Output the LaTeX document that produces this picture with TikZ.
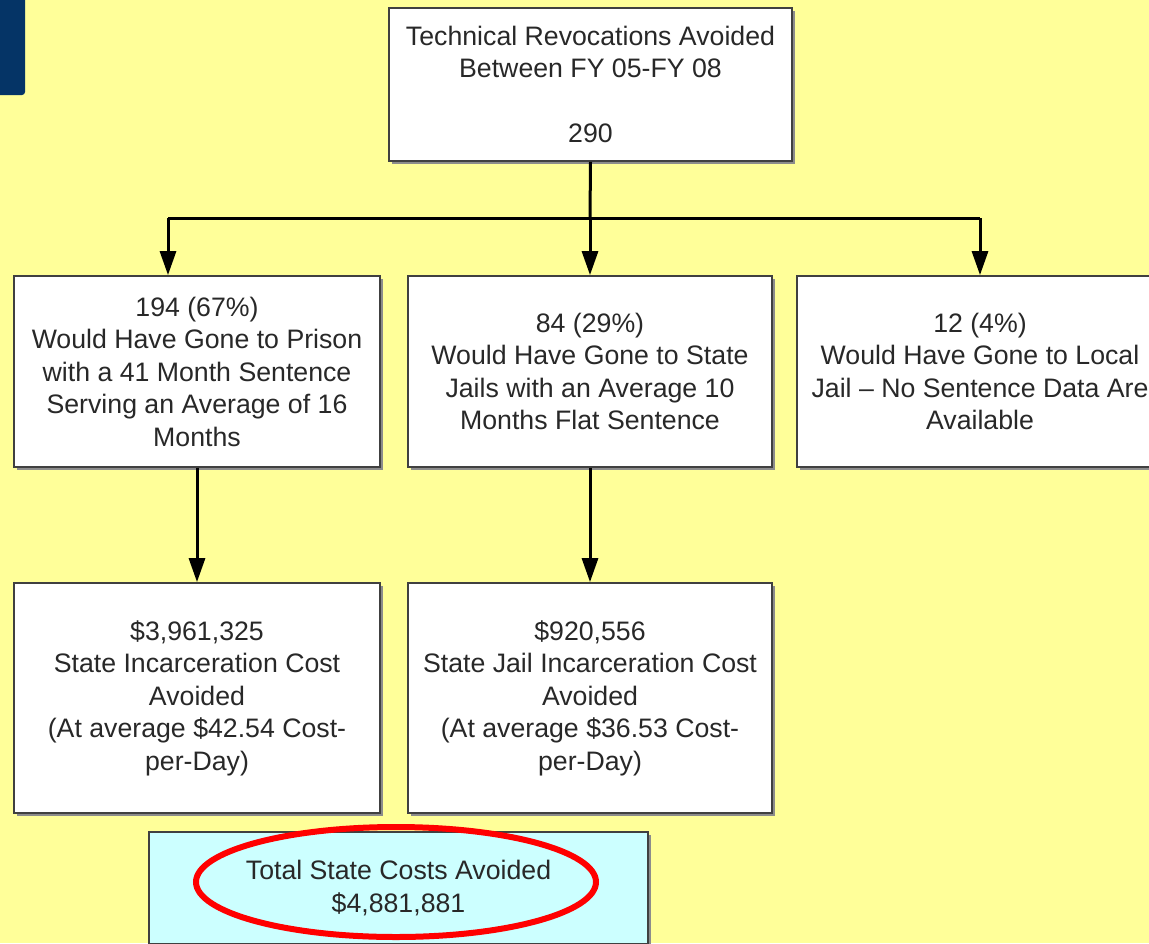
\documentclass[tikz,border=0pt]{standalone}
\usepackage{fontspec}
\setmainfont{Liberation Sans}
\usetikzlibrary{arrows.meta,shadows,shapes.geometric}
\definecolor{pagebg}{RGB}{255,255,153}
\definecolor{navy}{RGB}{5,52,102}
\definecolor{totalfill}{RGB}{204,255,255}
\definecolor{boxtext}{RGB}{40,40,40}
\definecolor{ringred}{RGB}{255,0,0}
\tikzset{
  box/.style={draw=black!75, line width=1.8pt, fill=white, align=center,
    text=boxtext, inner sep=0pt,
    font=\fontsize{26.7}{32.5}\selectfont,
    drop shadow={shadow xshift=2.5pt, shadow yshift=-2.5pt, fill=black!45, opacity=1}},
  link/.style={line width=3pt, draw=black},
  arrowlink/.style={link, -{Triangle[width=16pt,length=24pt]}, shorten >=0pt},
}
\begin{document}
\begin{tikzpicture}[x=1pt, y=-1pt]
  \useasboundingbox (0,0) rectangle (1149,943);
  \clip (0,0) rectangle (1149,943);
  \fill[pagebg] (0,0) rectangle (1149,943);
  % corner tab of the slide frame
  \fill[navy] (-5,-5) -- (25,-5) -- (25,91) [rounded corners=3pt] -- (25,95) -- (-5,95) -- cycle;

  % boxes
  \node[box, minimum width=403pt, minimum height=153pt] (top) at (590.5,84.5)
    {Technical Revocations Avoided\\Between FY 05-FY 08\\[32.5pt]290};
  \node[box, minimum width=366pt, minimum height=191pt] (prison) at (197,371.5)
    {194 (67\%)\\Would Have Gone to Prison\\with a 41 Month Sentence\\Serving an Average of 16\\Months};
  \node[box, minimum width=364pt, minimum height=191pt] (statejail) at (590,371.5)
    {84 (29\%)\\Would Have Gone to State\\Jails with an Average 10\\Months Flat Sentence};
  \node[box, minimum width=366pt, minimum height=191pt] (localjail) at (980,371.5)
    {12 (4\%)\\Would Have Gone to Local\\Jail – No Sentence Data Are\\Available};
  \node[box, minimum width=366pt, minimum height=230pt] (prisoncost) at (197,698)
    {\$3,961,325\\State Incarceration Cost\\Avoided\\(At average \$42.54 Cost-\\per-Day)};
  \node[box, minimum width=364pt, minimum height=230pt] (jailcost) at (590,698)
    {\$920,556\\State Jail Incarceration Cost\\Avoided\\(At average \$36.53 Cost-\\per-Day)};
  \node[box, fill=totalfill, minimum width=499pt, minimum height=112pt] (total) at (398.5,888)
    {Total State Costs Avoided\\\$4,881,881};

  % distribution bus
  \coordinate (hub) at (590,218);
  \coordinate (busL) at (168,218);
  \coordinate (busR) at (980,218);
  \draw[link] (top.south) -- (hub);
  \draw[link] (busL) -- (busR);
  \draw[arrowlink] (busL) -- (busL |- prison.north);
  \draw[arrowlink] (hub) -- (statejail.north);
  \draw[arrowlink] (busR) -- (localjail.north);
  \draw[arrowlink] (prison.south) -- (prisoncost.north);
  \draw[arrowlink] (statejail.south) -- (jailcost.north);

  % highlight ring around the total
  \node[draw=ringred, line width=6pt, ellipse, minimum width=400pt, minimum height=110pt,
        inner sep=0pt] (ring) at (396,882) {};
\end{tikzpicture}
\end{document}
